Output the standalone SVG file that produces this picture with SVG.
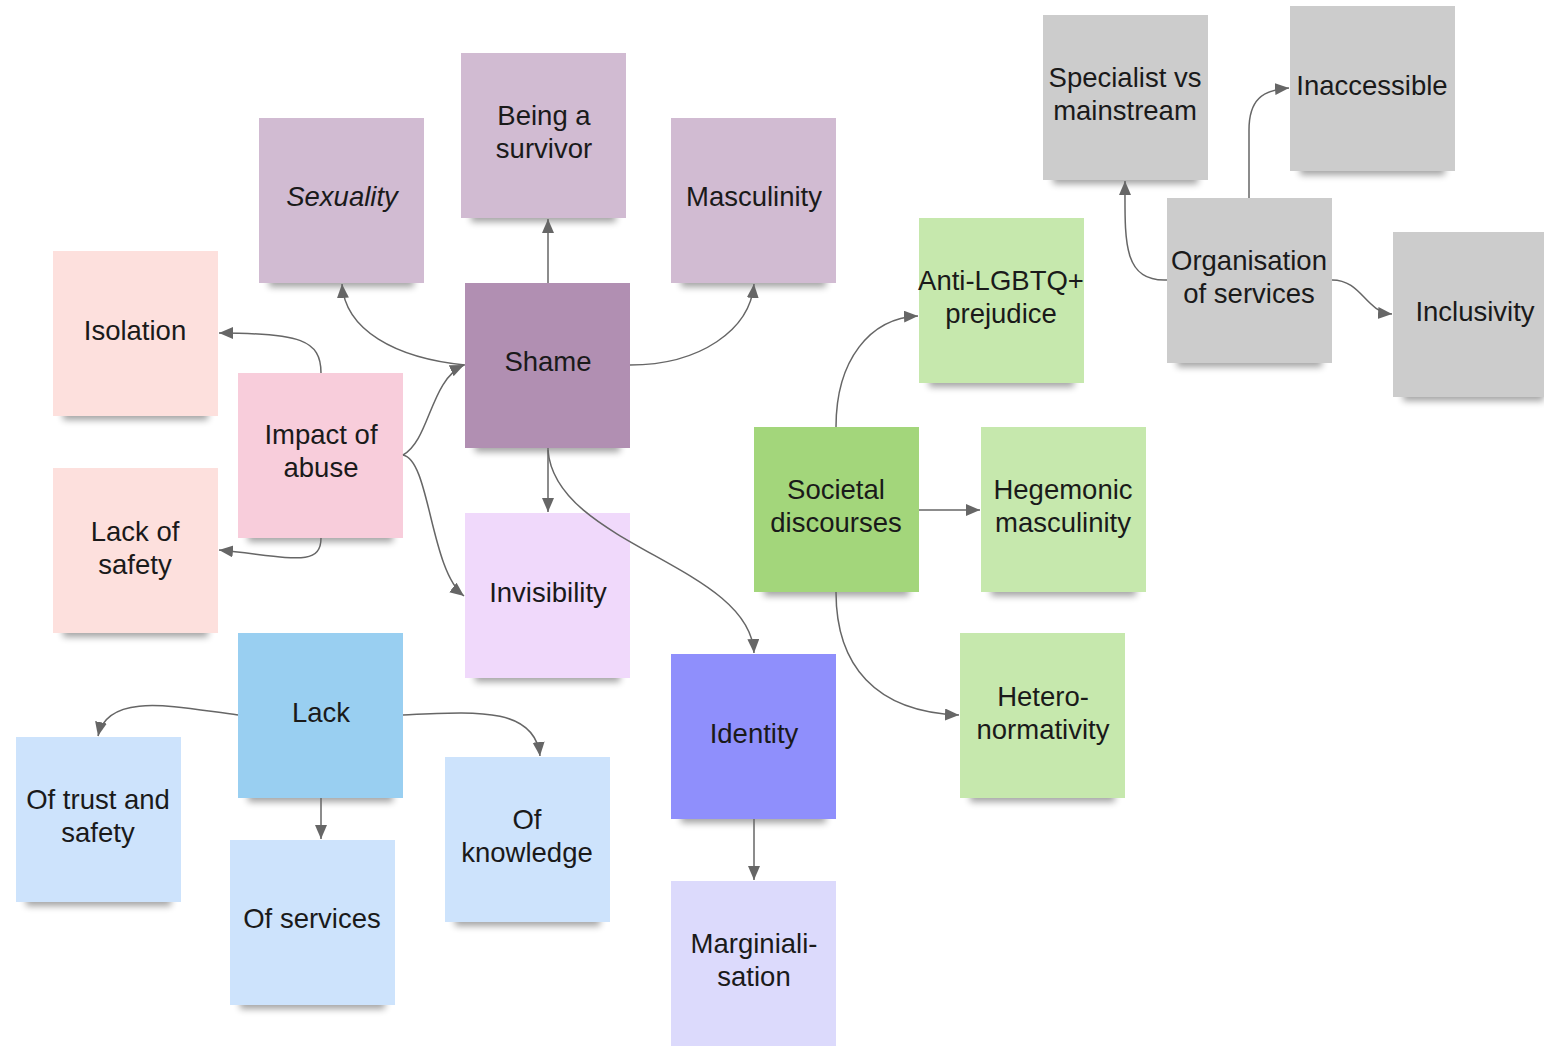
<svg xmlns="http://www.w3.org/2000/svg" width="1544" height="1046" viewBox="0 0 1544 1046">
<style>
text{font-family:"Liberation Sans",Arial,sans-serif;font-size:27.5px;fill:#1a1a1a;text-anchor:middle}
.sh{fill:#000;opacity:.36;filter:url(#blur)}
.c path{fill:none;stroke:#666;stroke-width:1.5;marker-end:url(#ah)}
</style>
<defs>
<filter id="blur" x="-20%" y="-100%" width="140%" height="300%"><feGaussianBlur stdDeviation="3.5"/></filter>
<marker id="ah" markerUnits="userSpaceOnUse" markerWidth="16" markerHeight="14" refX="14" refY="6" orient="auto"><path d="M0,0 L14,6 L0,12 z" fill="#666"/></marker>
</defs>
<rect width="1544" height="1046" fill="#fff"/>

<g id="sexuality"><rect class="sh" x="269" y="272" width="145" height="15"/><rect x="259" y="118" width="165" height="165" fill="#d1bbd2"/><text x="342" y="206" font-style="italic">Sexuality</text></g>
<g id="being-a-survivor"><rect class="sh" x="471" y="207" width="145" height="15"/><rect x="461" y="53" width="165" height="165" fill="#d1bbd2"/><text x="544" y="125">Being a</text><text x="544" y="158">survivor</text></g>
<g id="masculinity"><rect class="sh" x="681" y="272" width="145" height="15"/><rect x="671" y="118" width="165" height="165" fill="#d1bbd2"/><text x="754" y="206">Masculinity</text></g>
<g id="shame"><rect class="sh" x="475" y="437" width="145" height="15"/><rect x="465" y="283" width="165" height="165" fill="#b18fb2"/><text x="548" y="371">Shame</text></g>
<g id="isolation"><rect class="sh" x="63" y="405" width="145" height="15"/><rect x="53" y="251" width="165" height="165" fill="#fde0dd"/><text x="135" y="340">Isolation</text></g>
<g id="impact-of-abuse"><rect class="sh" x="248" y="527" width="145" height="15"/><rect x="238" y="373" width="165" height="165" fill="#f8cddb"/><text x="321" y="444">Impact of</text><text x="321" y="477">abuse</text></g>
<g id="lack-of-safety"><rect class="sh" x="63" y="622" width="145" height="15"/><rect x="53" y="468" width="165" height="165" fill="#fde0dd"/><text x="135" y="541">Lack of</text><text x="135" y="574">safety</text></g>
<g id="invisibility"><rect class="sh" x="475" y="667" width="145" height="15"/><rect x="465" y="513" width="165" height="165" fill="#f0d9fb"/><text x="548" y="602">Invisibility</text></g>
<g id="lack"><rect class="sh" x="248" y="787" width="145" height="15"/><rect x="238" y="633" width="165" height="165" fill="#99cff1"/><text x="321" y="722">Lack</text></g>
<g id="of-trust-and-safety"><rect class="sh" x="26" y="891" width="145" height="15"/><rect x="16" y="737" width="165" height="165" fill="#cde3fc"/><text x="98" y="809">Of trust and</text><text x="98" y="842">safety</text></g>
<g id="of-services"><rect class="sh" x="240" y="994" width="145" height="15"/><rect x="230" y="840" width="165" height="165" fill="#cde3fc"/><text x="312" y="928">Of services</text></g>
<g id="of-knowledge"><rect class="sh" x="455" y="911" width="145" height="15"/><rect x="445" y="757" width="165" height="165" fill="#cde3fc"/><text x="527" y="829">Of</text><text x="527" y="862">knowledge</text></g>
<g id="identity"><rect class="sh" x="681" y="808" width="145" height="15"/><rect x="671" y="654" width="165" height="165" fill="#8f8ffc"/><text x="754" y="743">Identity</text></g>
<g id="marginialisation"><rect class="sh" x="681" y="1035" width="145" height="15"/><rect x="671" y="881" width="165" height="165" fill="#dcdafc"/><text x="754" y="953">Marginiali-</text><text x="754" y="986">sation</text></g>
<g id="societal-discourses"><rect class="sh" x="764" y="581" width="145" height="15"/><rect x="754" y="427" width="165" height="165" fill="#a3d67b"/><text x="836" y="499">Societal</text><text x="836" y="532">discourses</text></g>
<g id="anti-lgbtq-prejudice"><rect class="sh" x="929" y="372" width="145" height="15"/><rect x="919" y="218" width="165" height="165" fill="#c6e8ad"/><text x="1001" y="290">Anti-LGBTQ+</text><text x="1001" y="323">prejudice</text></g>
<g id="hegemonic-masculinity"><rect class="sh" x="991" y="581" width="145" height="15"/><rect x="981" y="427" width="165" height="165" fill="#c6e8ad"/><text x="1063" y="499">Hegemonic</text><text x="1063" y="532">masculinity</text></g>
<g id="hetero-normativity"><rect class="sh" x="970" y="787" width="145" height="15"/><rect x="960" y="633" width="165" height="165" fill="#c6e8ad"/><text x="1043" y="706">Hetero-</text><text x="1043" y="739">normativity</text></g>
<g id="specialist-vs-mainstream"><rect class="sh" x="1053" y="169" width="145" height="15"/><rect x="1043" y="15" width="165" height="165" fill="#cccccc"/><text x="1125" y="87">Specialist vs</text><text x="1125" y="120">mainstream</text></g>
<g id="inaccessible"><rect class="sh" x="1300" y="160" width="145" height="15"/><rect x="1290" y="6" width="165" height="165" fill="#cccccc"/><text x="1372" y="95">Inaccessible</text></g>
<g id="organisation-of-services"><rect class="sh" x="1177" y="352" width="145" height="15"/><rect x="1167" y="198" width="165" height="165" fill="#cccccc"/><text x="1249" y="270">Organisation</text><text x="1249" y="303">of services</text></g>
<g id="inclusivity"><rect class="sh" x="1403" y="386" width="141" height="15"/><rect x="1393" y="232" width="151" height="165" fill="#cccccc"/><text x="1475" y="321">Inclusivity</text></g>

<g class="c" id="connectors">
<path d="M548,283 L548,219"/>
<path d="M465,365 C395,358 345,330 342,284"/>
<path d="M630,365 C700,365 750,330 754,284"/>
<path d="M548,448 L548,512"/>
<path d="M548,450 C555,545 750,565 754,653"/>
<path d="M403,455 C430,440 430,380 464,365"/>
<path d="M403,455 C430,460 430,570 464,596"/>
<path d="M321,373 C321,340 300,333 219,333"/>
<path d="M321,538 C321,568 290,557 219,550"/>
<path d="M238,715 C180,708 108,690 98,736"/>
<path d="M321,798 L321,839"/>
<path d="M403,715 C470,712 535,705 540,756"/>
<path d="M754,819 L754,880"/>
<path d="M836,427 C836,360 870,318 918,316"/>
<path d="M919,510 L980,510"/>
<path d="M836,592 C836,665 875,712 959,715"/>
<path d="M1167,280 C1122,282 1125,240 1125,181"/>
<path d="M1249,198 L1249,130 C1249,100 1262,90 1289,88"/>
<path d="M1332,280 C1362,280 1365,312 1392,314"/>
</g>
</svg>
